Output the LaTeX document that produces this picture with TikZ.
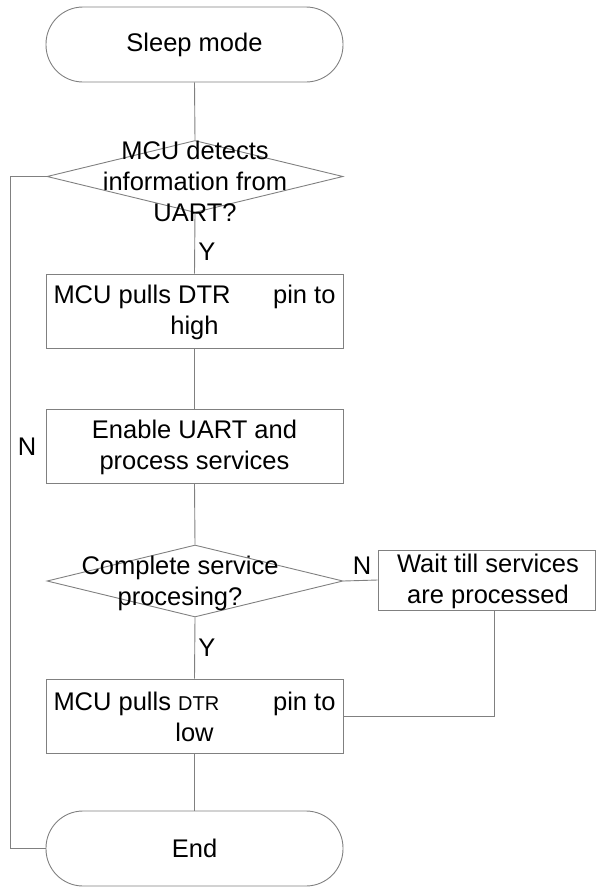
\documentclass[tikz,border=0pt]{standalone}
\usepackage{fontspec}
\setmainfont{Liberation Sans}
\usetikzlibrary{shapes.geometric}

\begin{document}
\begin{tikzpicture}[x=1pt,y=-1pt,
  line/.style={draw=black!50, line width=0.9pt},
  term/.style={line, rectangle, rounded corners=37pt, minimum width=297pt, minimum height=75pt, inner sep=0pt},
  procbox/.style={line, rectangle, minimum width=297pt, minimum height=74pt, inner sep=0pt},
  decision/.style={line, diamond, minimum width=296pt, minimum height=72pt, inner sep=0pt},
  txt/.style={align=center, font=\fontsize{25.5}{31}\selectfont, inner sep=0pt},
  lbl/.style={font=\fontsize{25.5}{31}\selectfont, inner sep=0pt}
]
\useasboundingbox (0,0) rectangle (597,887);

% main column
\node[term, txt] (sleep) at (194.5,44.5) {Sleep mode};
\node[decision] (d1) at (195,176.5) {};
\node[txt] (d1t) at (195,181) {MCU detects\\information from\\UART?};
\node[procbox] (b1) at (194.5,311) {};
\node[txt] (b1t) at (194.5,312) {\hbox to 282pt{MCU pulls DTR\hfill pin to}\\high};
\node[procbox] (b2) at (194.5,446) {};
\node[txt] (b2t) at (194.5,447) {Enable UART and\\process services};
\node[decision] (d2) at (195,581) {};
\node[txt] (d2t) at (180,583) {Complete service\\procesing?};
\node[procbox, minimum width=217pt, minimum height=60pt] (wait) at (486.5,580) {};
\node[txt] (waitt) at (488,581) {Wait till services\\are processed};
\node[procbox] (b3) at (194.5,716) {};
\node[txt] (b3t) at (194.5,717) {\hbox to 282pt{MCU pulls {\fontsize{20}{24}\selectfont DTR}\hfill pin to}\\low};
\node[term, txt] (end) at (194.5,848.5) {End};

% branch labels
\node[lbl] (y1) at (207,252) {Y};
\node[lbl] (y2) at (207,648) {Y};
\node[lbl] (n1) at (27,447) {N};
\node[lbl] (n2) at (362,566) {N};

% loop-back and side routes
\coordinate (lx) at (10,500);
\coordinate (wx) at (494,715);

% connectors
\draw[line] (sleep.south) -- (d1.north);
\draw[line] (d1.south) -- (b1.north);
\draw[line] (b1.south) -- (b2.north);
\draw[line] (b2.south) -- (d2.north);
\draw[line] (d2.east) -- (wait.west);
\draw[line] (wait.south -| wx) |- (b3.east);
\draw[line] (d2.south) -- (b3.north);
\draw[line] (b3.south) -- (end.north);
\draw[line] (d1.west) -- (d1.west -| lx) -- (end.west -| lx) -- (end.west);
\end{tikzpicture}
\end{document}
